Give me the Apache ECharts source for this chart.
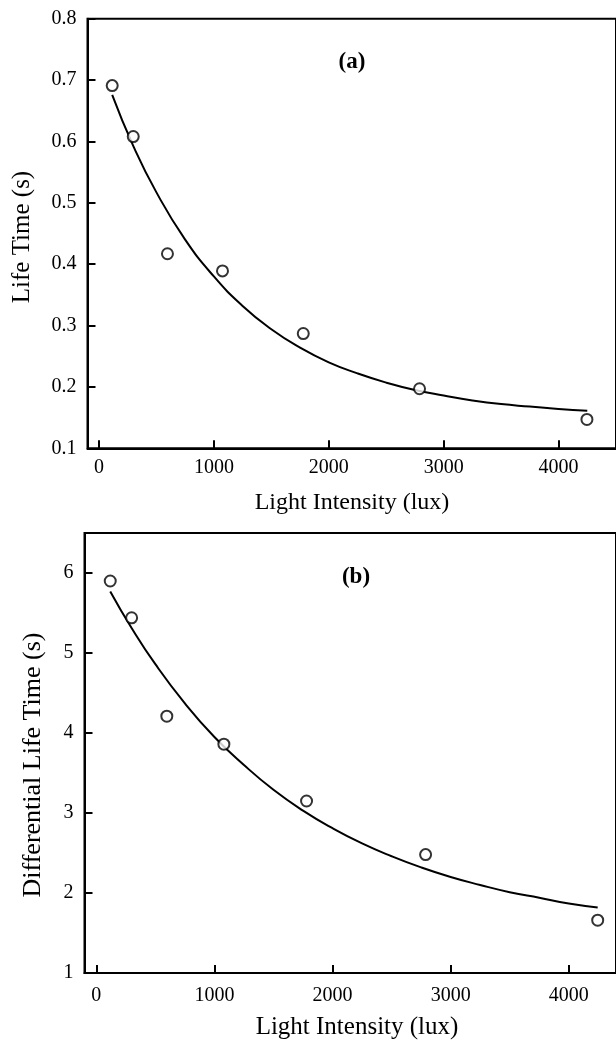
<!DOCTYPE html>
<html>
<head>
<meta charset="utf-8">
<script src="https://cdn.jsdelivr.net/npm/echarts@6/dist/echarts.min.js"></script>
<style>
html,body{margin:0;padding:0;background:#fff;}
#chart{width:616px;height:1043px;}
</style>
</head>
<body>
<div id="chart"></div>
<script>
// ---- Panel (a): Life Time ----
var aPointsX = [115, 298, 596, 1075, 1778, 2790, 4247];
var aPointsY = [0.691, 0.608, 0.417, 0.389, 0.287, 0.197, 0.147];
var aCurveX = [115, 300, 500, 750, 1000, 1250, 1500, 1750, 2000, 2250, 2500, 2750, 3000, 3250, 3500, 3750, 4000, 4250];
var aCurveY = [0.676, 0.592, 0.517, 0.440, 0.380, 0.332, 0.294, 0.264, 0.240, 0.222, 0.207, 0.195, 0.186, 0.178, 0.172, 0.168, 0.164, 0.161];
var aYTicks = [0.1, 0.2, 0.3, 0.4, 0.5, 0.6, 0.7, 0.8];

// ---- Panel (b): Differential Life Time ----
var bPointsX = [118, 299, 597, 1080, 1780, 2788, 4245];
var bPointsY = [5.90, 5.44, 4.21, 3.86, 3.15, 2.48, 1.66];
var bCurveX = [118, 300, 500, 750, 1000, 1250, 1500, 1750, 2000, 2250, 2500, 2750, 3000, 3250, 3500, 3750, 4000, 4245];
var bCurveY = [5.77, 5.31, 4.86, 4.37, 3.95, 3.60, 3.29, 3.03, 2.81, 2.62, 2.46, 2.32, 2.20, 2.10, 2.01, 1.94, 1.87, 1.82];
var bYTicks = [1, 2, 3, 4, 5, 6];

var xTicks = [0, 1000, 2000, 3000, 4000];
var xTitle = 'Light Intensity (lux)';
var aYTitle = 'Life Time (s)';
var bYTitle = 'Differential Life Time (s)';

function pairs(xs, ys) { return xs.map(function (x, i) { return [x, ys[i]]; }); }

var FONT = '"Liberation Serif", "Times New Roman", serif';
var BLACK = '#000';

function xAxisCfg(grid, min, max, margin) {
  return {
    type: 'value', gridIndex: grid, min: min, max: max,
    axisLine: { show: true, onZero: false, lineStyle: { color: BLACK, width: 2 } },
    axisTick: { show: true, inside: true, length: 8, customValues: xTicks, lineStyle: { color: BLACK, width: 2 } },
    axisLabel: { customValues: xTicks, margin: margin, color: BLACK, fontFamily: FONT, fontSize: 20,
      formatter: function (v) { return String(Math.round(v)); } },
    splitLine: { show: false }
  };
}
function yAxisCfg(grid, min, max, ticks, fmt) {
  return {
    type: 'value', gridIndex: grid, min: min, max: max,
    axisLine: { show: true, onZero: false, lineStyle: { color: BLACK, width: 2 } },
    axisTick: { show: true, inside: true, length: 8, customValues: ticks, lineStyle: { color: BLACK, width: 2 } },
    axisLabel: { customValues: ticks, margin: 11, color: BLACK, fontFamily: FONT, fontSize: 20, formatter: fmt },
    splitLine: { show: false }
  };
}

var chart = echarts.init(document.getElementById('chart'), null, { renderer: 'canvas' });
chart.setOption({
  animation: false,
  backgroundColor: '#fff',
  grid: [
    { left: 87.5, top: 18.7, width: 530.4, height: 429.6, show: true, borderColor: BLACK, borderWidth: 2, backgroundColor: 'transparent' },
    { left: 84.5, top: 533, width: 533, height: 440, show: true, borderColor: BLACK, borderWidth: 2, backgroundColor: 'transparent' }
  ],
  xAxis: [
    xAxisCfg(0, -100, 4500, 9),
    xAxisCfg(1, -100, 4400, 13)
  ],
  yAxis: [
    yAxisCfg(0, 0.1, 0.8, aYTicks, function (v) { return v.toFixed(1); }),
    yAxisCfg(1, 1, 6.5, bYTicks, function (v) { return String(Math.round(v)); })
  ],
  series: [
    { type: 'line', xAxisIndex: 0, yAxisIndex: 0, data: pairs(aCurveX, aCurveY), smooth: true, showSymbol: false, lineStyle: { color: BLACK, width: 2 }, z: 2 },
    { type: 'scatter', xAxisIndex: 0, yAxisIndex: 0, data: pairs(aPointsX, aPointsY), symbol: 'circle', symbolSize: 11, itemStyle: { color: '#fff', borderColor: BLACK, borderWidth: 2 }, z: 3 },
    { type: 'line', xAxisIndex: 1, yAxisIndex: 1, data: pairs(bCurveX, bCurveY), smooth: true, showSymbol: false, lineStyle: { color: BLACK, width: 2 }, z: 2 },
    { type: 'scatter', xAxisIndex: 1, yAxisIndex: 1, data: pairs(bPointsX, bPointsY), symbol: 'circle', symbolSize: 11, itemStyle: { color: '#fff', borderColor: BLACK, borderWidth: 2 }, z: 3 }
  ],
  graphic: [
    { type: 'text', x: 352, y: 62, style: { text: '(a)', font: 'bold 23px ' + FONT, fill: BLACK, textAlign: 'center', textVerticalAlign: 'middle' } },
    { type: 'text', x: 356, y: 577, style: { text: '(b)', font: 'bold 23px ' + FONT, fill: BLACK, textAlign: 'center', textVerticalAlign: 'middle' } },
    { type: 'text', x: 352, y: 503, style: { text: xTitle, font: '24px ' + FONT, fill: BLACK, textAlign: 'center', textVerticalAlign: 'middle' } },
    { type: 'text', x: 357, y: 1027, style: { text: xTitle, font: '25px ' + FONT, fill: BLACK, textAlign: 'center', textVerticalAlign: 'middle' } },
    { type: 'text', x: 22, y: 237, rotation: Math.PI / 2, style: { text: aYTitle, font: '25px ' + FONT, fill: BLACK, textAlign: 'center', textVerticalAlign: 'middle' } },
    { type: 'text', x: 33, y: 765, rotation: Math.PI / 2, style: { text: bYTitle, font: '26px ' + FONT, fill: BLACK, textAlign: 'center', textVerticalAlign: 'middle' } }
  ]
});
</script>
</body>
</html>
